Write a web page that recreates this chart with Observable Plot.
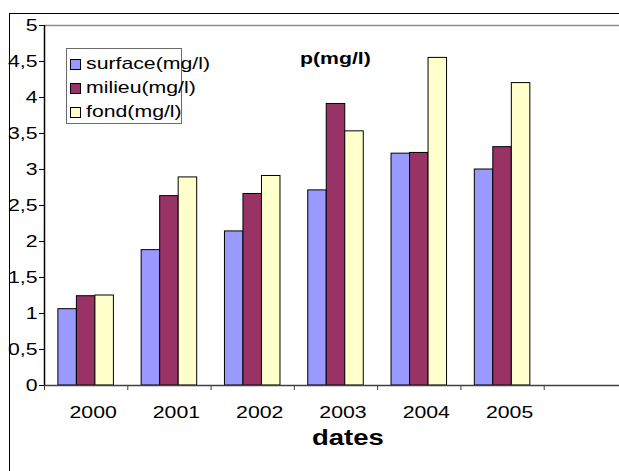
<!DOCTYPE html>
<html>
<head>
<meta charset="utf-8">
<script src="https://cdn.jsdelivr.net/npm/d3@7"></script>
<script src="https://cdn.jsdelivr.net/npm/@observablehq/plot@0.6"></script>
<style>
  body { margin: 0; background: #fff; }
  #chart {
    position: relative; width: 619px; height: 471px; overflow: hidden; background: #fff;
    font-family: "Liberation Sans", Arial, sans-serif; color: #000;
  }
  #chart svg { position: absolute; left: 0; top: 0; }
  .border {
    position: absolute; left: 9px; top: 13px; width: 700px; height: 600px;
    border-top: 1.5px solid #000; border-left: 1.5px solid #000;
  }
  .legend {
    position: absolute; left: 66px; top: 48px; width: 114px; height: 74px;
    border: 1px solid #6a6a6a;
  }
  .legend .sw { position: absolute; left: 3px; width: 9px; height: 9px; border: 1px solid #000; }
  .legend .lb {
    position: absolute; left: 19px; font-size: 17px; line-height: 24px; white-space: nowrap;
    transform: scaleX(1.25); transform-origin: left center;
  }
  .wide { position: absolute; white-space: nowrap; transform: scaleX(1.25); transform-origin: left center; font-weight: bold; }
  .title { left: 300px; top: 50px; font-size: 17px; line-height: 17px; }
  .xtitle { left: 312px; top: 427px; font-size: 22px; line-height: 22px; }
</style>
</head>
<body>
<div id="chart"><div class="border"></div></div>
<script>
// Categories: sampling years; the category axis keeps one trailing empty slot.
const years = ["2000", "2001", "2002", "2003", "2004", "2005"];
const slots = 7;

// Series (phosphorus concentration by depth, mg/l)
const series = ["surface(mg/l)", "milieu(mg/l)", "fond(mg/l)"];
const colors = ["#9999FF", "#993366", "#FFFFCC"];
const surface = [1.06, 1.88, 2.14, 2.71, 3.22, 3.00];
const milieu  = [1.24, 2.63, 2.66, 3.91, 3.23, 3.31];
const fond    = [1.25, 2.89, 2.91, 3.53, 4.55, 4.20];

// Value axis ticks
const yTicks = [0, 0.5, 1, 1.5, 2, 2.5, 3, 3.5, 4, 4.5, 5];
const chartTitle = "p(mg/l)";
const xTitle = "dates";

// Clustered bars: each category holds the three series side by side,
// separated from the next group by a gap of 1.5 bar widths.
const seriesValues = [surface, milieu, fond];
const gapWidth = 1.5;
const barW = 1 / (series.length + gapWidth);
const lead = barW * gapWidth / 2;
const rows = years.flatMap((year, i) =>
  series.map((s, j) => ({
    year, series: s, value: seriesValues[j][i],
    x1: i + lead + j * barW,
    x2: i + lead + (j + 1) * barW
  }))
);

const comma = d => String(d).replace(".", ",");

const plot = Plot.plot({
  width: 619,
  height: 471,
  marginLeft: 44,
  marginTop: 25,
  marginBottom: 86,
  marginRight: 0,
  style: {fontFamily: '"Liberation Sans", Arial, sans-serif', fontSize: "17px", background: "transparent"},
  x: {domain: [0, slots], range: [44, 627]},
  y: {domain: [0, 5], range: [385, 25]},
  color: {domain: series, range: colors},
  marks: [
    Plot.rectY(rows, {x1: "x1", x2: "x2", y: "value", fill: "series", stroke: "#000", strokeWidth: 1}),
    Plot.ruleY([5], {stroke: "#8c8c8c", strokeWidth: 1.5}),
    Plot.ruleY([0], {stroke: "#404040", strokeWidth: 1.5}),
    Plot.ruleX([0], {stroke: "#000", strokeWidth: 1.5}),
    Plot.axisY({ticks: yTicks, tickSize: 5, tickPadding: 2, tickFormat: comma, label: null}),
    Plot.axisX({ticks: d3.range(0, slots + 1), tickSize: 5, tickFormat: () => "", label: null, stroke: "#404040"}),
    Plot.axisX({
      ticks: years.map((_, i) => i + 0.5), tickSize: 0, tickPadding: 20, dx: 7,
      tickFormat: d => years[Math.floor(d)], label: null
    })
  ]
});

const chart = document.getElementById("chart");
chart.append(plot);

// Widen the axis lettering a little, as in the original spreadsheet chart.
plot.querySelectorAll("text").forEach(t => {
  const w = t.getComputedTextLength();
  if (w > 0) {
    t.setAttribute("textLength", (w * 1.25).toFixed(2));
    t.setAttribute("lengthAdjust", "spacingAndGlyphs");
  }
});

// Legend box
const legend = document.createElement("div");
legend.className = "legend";
series.forEach((s, j) => {
  const sw = document.createElement("div");
  sw.className = "sw";
  sw.style.top = (10 + 24 * j) + "px";
  sw.style.background = colors[j];
  const lb = document.createElement("div");
  lb.className = "lb";
  lb.style.top = (3 + 24 * j) + "px";
  lb.textContent = s;
  legend.append(sw, lb);
});
chart.append(legend);

// Chart title and category axis title
const t = document.createElement("div");
t.className = "wide title";
t.textContent = chartTitle;
const xt = document.createElement("div");
xt.className = "wide xtitle";
xt.textContent = xTitle;
chart.append(t, xt);
</script>
</body>
</html>
